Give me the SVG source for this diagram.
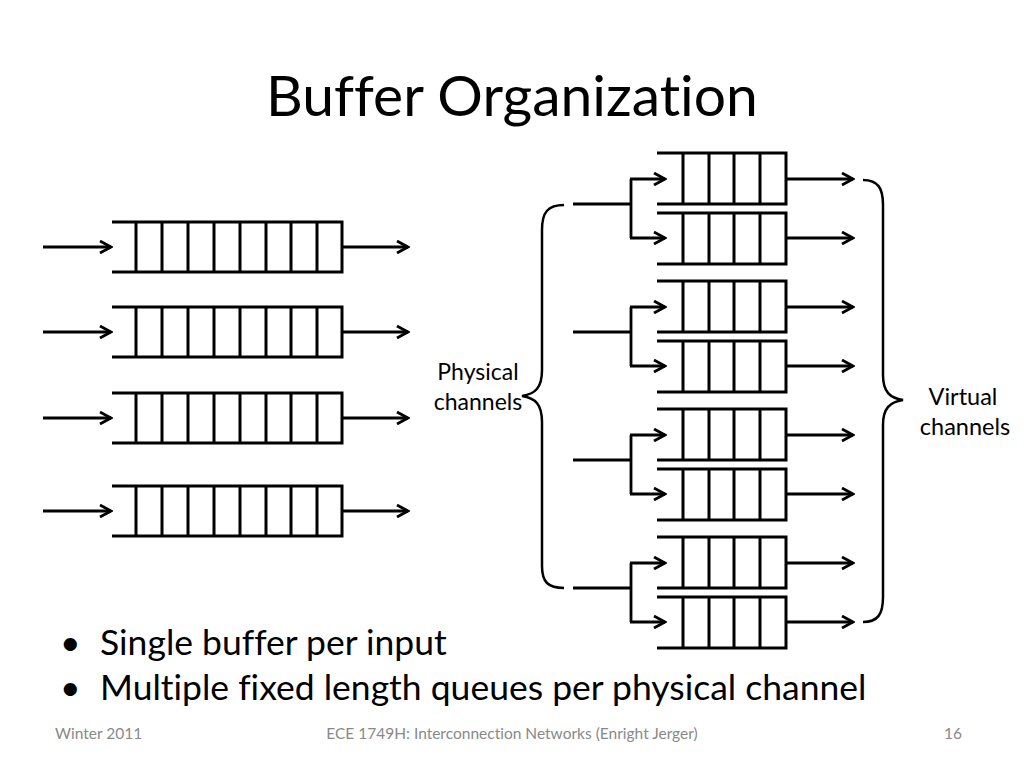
<svg xmlns="http://www.w3.org/2000/svg" width="1024" height="768" viewBox="0 0 1024 768">
<defs>
<marker id="ah" markerUnits="userSpaceOnUse" viewBox="0 0 14 14" refX="12" refY="7" markerWidth="14" markerHeight="14" orient="auto">
<path d="M1,1 L12,7 L1,13" fill="none" stroke="#000" stroke-width="2.8" stroke-linejoin="miter"/>
</marker>
<g id="lq">
<path d="M112,0 H342 V50 H112 M136,0 V50 M162,0 V50 M188,0 V50 M214,0 V50 M240,0 V50 M266,0 V50 M291,0 V50 M317,0 V50"/>
</g>
<g id="rq">
<path d="M657,0 H786 V51 H657 M683,0 V51 M709,0 V51 M734,0 V51 M760,0 V51"/>
</g>
</defs>
<style>
.q{fill:none;stroke:#000;stroke-width:3}
.c{fill:none;stroke:#000;stroke-width:2.8}
.a{marker-end:url(#ah)}
.br{fill:none;stroke:#000;stroke-width:2.5}
text{font-variant-ligatures:none}
.t{font-family:Lato,"Liberation Sans",sans-serif;fill:#000}
.f{font-family:Lato,"Liberation Sans",sans-serif;fill:#898989;font-size:15.5px}
</style>
<rect width="1024" height="768" fill="#fff"/>
<text class="t" x="512" y="116" font-size="57" text-anchor="middle">Buffer Organization</text>

<g id="left-queue-1" class="q"><use href="#lq" y="222"/></g>
<g id="left-queue-2" class="q"><use href="#lq" y="307"/></g>
<g id="left-queue-3" class="q"><use href="#lq" y="393"/></g>
<g id="left-queue-4" class="q"><use href="#lq" y="486"/></g>

<g id="vc-group-1" class="q"><use href="#rq" y="153"/><use href="#rq" y="213"/></g>
<g id="vc-group-2" class="q"><use href="#rq" y="281"/><use href="#rq" y="341"/></g>
<g id="vc-group-3" class="q"><use href="#rq" y="409"/><use href="#rq" y="469"/></g>
<g id="vc-group-4" class="q"><use href="#rq" y="537"/><use href="#rq" y="597"/></g>

<g id="connectors" class="c">
<path class="a" d="M43,247 H111"/><path class="a" d="M342,247 H408"/>
<path class="a" d="M43,332 H111"/><path class="a" d="M342,332 H408"/>
<path class="a" d="M43,418 H111"/><path class="a" d="M342,418 H408"/>
<path class="a" d="M43,511 H111"/><path class="a" d="M342,511 H408"/>

<path d="M573,204 H631 M631,179 V238"/>
<path class="a" d="M630,179 H665"/><path class="a" d="M630,238 H665"/>
<path class="a" d="M786,179 H853"/><path class="a" d="M786,238 H853"/>

<path d="M573,332 H631 M631,307 V366"/>
<path class="a" d="M630,307 H665"/><path class="a" d="M630,366 H665"/>
<path class="a" d="M786,307 H853"/><path class="a" d="M786,366 H853"/>

<path d="M573,460 H631 M631,435 V494"/>
<path class="a" d="M630,435 H665"/><path class="a" d="M630,494 H665"/>
<path class="a" d="M786,435 H853"/><path class="a" d="M786,494 H853"/>

<path d="M573,588 H631 M631,563 V622"/>
<path class="a" d="M630,563 H665"/><path class="a" d="M630,622 H665"/>
<path class="a" d="M786,563 H853"/><path class="a" d="M786,622 H853"/>
</g>

<g id="brace-physical">
<path class="br" d="M564,205 C548,205 542,212 542,230 V370 C542,388 535,394 522,396 C535,398 542,404 542,422 V566 C542,582 548,588 564,588"/>
<text class="t" x="478" y="380" font-size="23" text-anchor="middle">Physical</text>
<text class="t" x="478" y="410" font-size="23" text-anchor="middle">channels</text>
</g>
<g id="brace-virtual">
<path class="br" d="M863,180 C878,180 883,188 883,205 V375 C883,392 890,398 903,400 C890,402 883,408 883,425 V597 C883,614 878,622 863,622"/>
<text class="t" x="963" y="405" font-size="23.5" text-anchor="middle">Virtual</text>
<text class="t" x="965" y="435" font-size="23.5" text-anchor="middle">channels</text>
</g>

<g id="bullets" class="t" font-size="35.5">
<text x="60" y="655">•</text><text x="100" y="655">Single buffer per input</text>
<text x="60" y="700">•</text><text x="100" y="700">Multiple fixed length queues per physical channel</text>
</g>

<g id="footer">
<text class="f" x="55" y="739">Winter 2011</text>
<text class="f" x="512" y="739" text-anchor="middle">ECE 1749H: Interconnection Networks (Enright Jerger)</text>
<text class="f" x="962" y="739" text-anchor="end">16</text>
</g>
</svg>
